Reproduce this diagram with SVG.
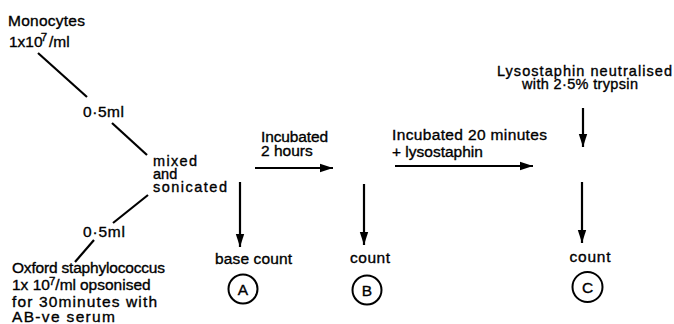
<svg xmlns="http://www.w3.org/2000/svg" width="674" height="324" viewBox="0 0 674 324">
<style>
text{font-family:"Liberation Sans",Arial,sans-serif;font-size:15.5px;fill:#000;stroke:#000;stroke-width:0.35}
.s{font-size:14.5px}
.c{text-anchor:middle}
.ln{stroke:#000;stroke-width:2.2;fill:none;stroke-linecap:butt}
.circ{stroke:#000;stroke-width:2;fill:#fff}
.sup{font-size:11.5px}
</style>
<defs>
<marker id="ah" markerUnits="userSpaceOnUse" markerWidth="14" markerHeight="10" refX="13" refY="5" orient="auto">
<path d="M0,0.8 L13,5 L0,9.2 Z" fill="#000"/>
</marker>
</defs>
<rect width="674" height="324" fill="#fff"/>
<g id="monocytes">
<text x="8" y="26" textLength="77" lengthAdjust="spacing">Monocytes</text>
<text x="9" y="47">1x10<tspan class="sup" dx="-2" dy="-6">7</tspan><tspan dx="2" dy="6">/ml</tspan></text>
</g>
<g id="vol1"><text x="83" y="117" textLength="41" lengthAdjust="spacing">0·5ml</text></g>
<g id="mixed">
<text class="s" x="153" y="166" textLength="44" lengthAdjust="spacing">mixed</text>
<text class="s" x="153" y="178.5">and</text>
<text class="s" x="153" y="191.5" textLength="74" lengthAdjust="spacing">sonicated</text>
</g>
<g id="vol2"><text x="83" y="237" textLength="42" lengthAdjust="spacing">0·5ml</text></g>
<g id="oxford">
<text x="12" y="273" textLength="153" lengthAdjust="spacing">Oxford staphylococcus</text>
<text x="12" y="290">1x 10<tspan class="sup" dx="-1" dy="-5">7</tspan><tspan dy="5">/ml</tspan><tspan x="80">opsonised</tspan></text>
<text x="12" y="306.5" textLength="145" lengthAdjust="spacing">for 30minutes with</text>
<text x="12" y="322" textLength="103" lengthAdjust="spacing">AB-ve serum</text>
</g>
<g id="incubate1">
<text x="261" y="142" textLength="67" lengthAdjust="spacing">Incubated</text>
<text x="261" y="156">2 hours</text>
</g>
<g id="incubate2">
<text x="392" y="140" textLength="155" lengthAdjust="spacing">Incubated 20 minutes</text>
<text x="392" y="157">+ lysostaphin</text>
</g>
<g id="neutralise">
<text class="s" x="497" y="75.5" textLength="175" lengthAdjust="spacing">Lysostaphin neutralised</text>
<text class="s" x="522" y="89" textLength="116" lengthAdjust="spacing">with 2·5% trypsin</text>
</g>
<g id="countA">
<text x="215" y="264" textLength="77" lengthAdjust="spacing">base count</text>
<circle class="circ" cx="243" cy="289" r="14.5"/>
<text class="c" x="243" y="295">A</text>
</g>
<g id="countB">
<text class="c" x="370" y="263" textLength="40" lengthAdjust="spacing">count</text>
<circle class="circ" cx="367" cy="290" r="14.5"/>
<text class="c" x="367" y="296">B</text>
</g>
<g id="countC">
<text class="c" x="590" y="262" textLength="41" lengthAdjust="spacing">count</text>
<circle class="circ" cx="587.5" cy="287" r="15"/>
<text class="c" x="587.5" y="293">C</text>
</g>
<g id="connectors">
<line class="ln" x1="38" y1="53" x2="87" y2="97"/>
<line class="ln" x1="112" y1="123" x2="147" y2="155"/>
<line class="ln" x1="148" y1="195" x2="113" y2="223"/>
<line class="ln" x1="94" y1="240" x2="75" y2="262"/>
<line class="ln" x1="240" y1="182" x2="240" y2="247" marker-end="url(#ah)"/>
<line class="ln" x1="255" y1="168" x2="333" y2="168" marker-end="url(#ah)"/>
<line class="ln" x1="364" y1="184" x2="364" y2="245" marker-end="url(#ah)"/>
<line class="ln" x1="395" y1="166" x2="533" y2="166" marker-end="url(#ah)"/>
<line class="ln" x1="583" y1="108" x2="583" y2="147" marker-end="url(#ah)"/>
<line class="ln" x1="582" y1="182" x2="582" y2="243" marker-end="url(#ah)"/>
</g>
</svg>
